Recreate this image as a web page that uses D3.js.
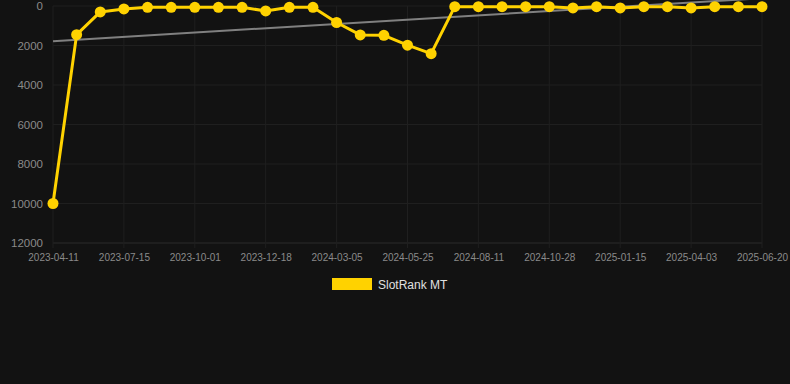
<!DOCTYPE html>
<html>
<head>
<meta charset="utf-8">
<script src="https://cdn.jsdelivr.net/npm/d3@7"></script>
<style>
  html, body { margin: 0; padding: 0; background: #121212; }
  #chart { width: 790px; height: 384px; }
  text { font-family: Arial, "Liberation Sans", sans-serif; }
</style>
</head>
<body>
<div id="chart"></div>
<script>
const dates = [
    '2023-04-11', '2023-05-12', '2023-06-13', '2023-07-15', '2023-08-14', '2023-09-02',
    '2023-10-01', '2023-10-29', '2023-11-23', '2023-12-18', '2024-01-14', '2024-02-09',
    '2024-03-05', '2024-04-01', '2024-04-28', '2024-05-25', '2024-06-21', '2024-07-17',
    '2024-08-11', '2024-09-07', '2024-10-03', '2024-10-28', '2024-11-23', '2024-12-19',
    '2025-01-15', '2025-02-10', '2025-03-08', '2025-04-03', '2025-04-29', '2025-05-25',
    '2025-06-20'
];
const rankValues = [
    10000, 1450, 300, 150, 65, 65, 65, 65, 65, 250, 65, 65,
    835, 1465, 1485, 1985, 2415, 35, 35, 35, 35, 35, 100, 35,
    100, 35, 35, 100, 35, 35, 35
];
const yTicks = [0, 2000, 4000, 6000, 8000, 10000, 12000];
const seriesName = 'SlotRank MT';

const width = 790;
const height = 384;
const margin = { top: 6, right: 28, bottom: 141, left: 53 };

const svg = d3.select('#chart')
    .append('svg')
    .attr('width', width)
    .attr('height', height);

const xScale = d3.scalePoint()
    .domain(dates)
    .range([margin.left, width - margin.right]);

const yScale = d3.scaleLinear()
    .domain([0, 12000])
    .range([margin.top, height - margin.bottom]);

const tickDates = dates.filter((d, i) => i % 3 === 0);

// grid
svg.append('g')
    .selectAll('line')
    .data(yTicks)
    .enter()
    .append('line')
    .attr('x1', margin.left)
    .attr('x2', width - margin.right)
    .attr('y1', d => yScale(d))
    .attr('y2', d => yScale(d))
    .attr('stroke', d => d === 12000 ? '#2a2a2a' : '#1f1f1f')
    .attr('stroke-width', 1);

svg.append('g')
    .selectAll('line')
    .data(tickDates)
    .enter()
    .append('line')
    .attr('x1', d => xScale(d))
    .attr('x2', d => xScale(d))
    .attr('y1', margin.top)
    .attr('y2', height - margin.bottom + 5)
    .attr('stroke', '#1f1f1f')
    .attr('stroke-width', 1);

// axes
const yAxis = d3.axisLeft(yScale).tickValues(yTicks).tickFormat(d3.format('d')).tickSize(0).tickPadding(0);
svg.append('g')
    .attr('transform', `translate(${margin.left - 10},0)`)
    .call(yAxis)
    .call(g => g.select('.domain').remove())
    .selectAll('text')
    .attr('fill', '#8a8a8a')
    .style('font-size', '11.5px');

const xAxis = d3.axisBottom(xScale).tickValues(tickDates).tickSize(0).tickPadding(0);
svg.append('g')
    .attr('transform', `translate(0,${height - margin.bottom + 11})`)
    .call(xAxis)
    .call(g => g.select('.domain').remove())
    .selectAll('text')
    .attr('fill', '#8a8a8a')
    .style('font-size', '10px');

// trend line (least squares)
const n = rankValues.length;
const meanI = d3.mean(rankValues, (d, i) => i);
const meanV = d3.mean(rankValues);
const slope = d3.sum(rankValues, (d, i) => (i - meanI) * (d - meanV)) /
    d3.sum(rankValues, (d, i) => (i - meanI) * (i - meanI));
const intercept = meanV - slope * meanI;

svg.append('line')
    .attr('x1', xScale(dates[0]))
    .attr('y1', yScale(intercept))
    .attr('x2', xScale(dates[n - 1]))
    .attr('y2', yScale(intercept + slope * (n - 1)))
    .attr('stroke', '#808080')
    .attr('stroke-width', 2);

// series
const line = d3.line()
    .x((d, i) => xScale(dates[i]))
    .y(d => yScale(d));

svg.append('path')
    .datum(rankValues)
    .attr('fill', 'none')
    .attr('stroke', '#ffd200')
    .attr('stroke-width', 3)
    .attr('stroke-linejoin', 'round')
    .attr('d', line);

svg.append('g')
    .selectAll('circle')
    .data(rankValues)
    .enter()
    .append('circle')
    .attr('cx', (d, i) => xScale(dates[i]))
    .attr('cy', d => yScale(d))
    .attr('r', 5.5)
    .attr('fill', '#ffd200');

// legend
const legend = svg.append('g')
    .attr('transform', 'translate(332,278)');

legend.append('rect')
    .attr('width', 40)
    .attr('height', 12)
    .attr('fill', '#ffd200');

legend.append('text')
    .attr('x', 46)
    .attr('y', 10.5)
    .attr('fill', '#e0e0e0')
    .style('font-size', '12px')
    .text(seriesName);
</script>
</body>
</html>
